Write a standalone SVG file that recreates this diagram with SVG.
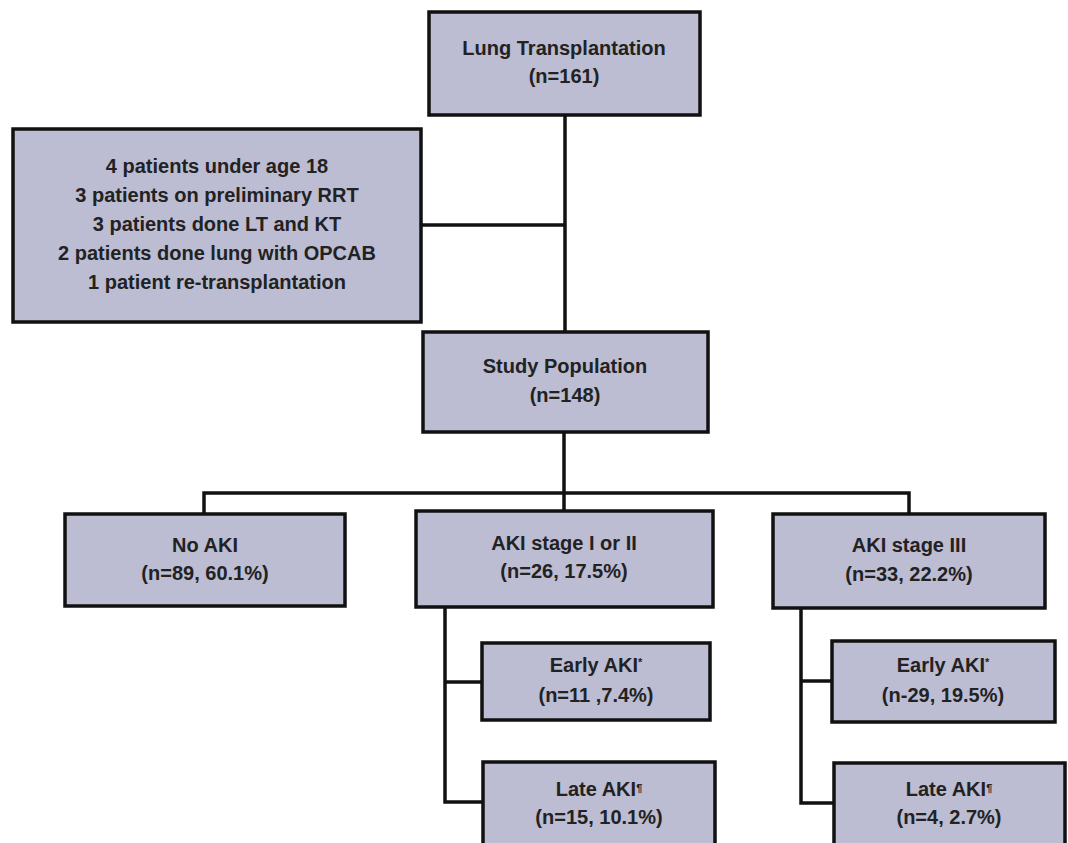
<svg xmlns="http://www.w3.org/2000/svg" width="1068" height="843" viewBox="0 0 1068 843">
<style>
.box{fill:#bcbcd3;stroke:#111;stroke-width:3.5}
.t{font-family:"Liberation Sans",Arial,sans-serif;font-weight:bold;font-size:20px;fill:#222;text-anchor:middle}
.sup{font-size:11px}
.c{fill:none;stroke:#111;stroke-width:3.5}
</style>
<rect width="1068" height="843" fill="#ffffff"/>
<g id="connectors">
<path class="c" d="M565,115 V332"/>
<path class="c" d="M421,225 H565"/>
<path class="c" d="M564,432 V493"/>
<path class="c" d="M204,514 V493 H909 V514"/>
<path class="c" d="M564,493 V511"/>
<path class="c" d="M445,607 V802 H483"/>
<path class="c" d="M445,682 H482"/>
<path class="c" d="M801,608 V803 H834"/>
<path class="c" d="M801,681 H832"/>
</g>
<g id="lung">
<rect class="box" x="429" y="12" width="271" height="103"/>
<text class="t" x="564" y="55">Lung Transplantation</text>
<text class="t" x="564" y="83">(n=161)</text>
</g>
<g id="exclusions">
<rect class="box" x="13" y="129" width="408" height="193"/>
<text class="t" x="217" y="173">4 patients under age 18</text>
<text class="t" x="217" y="202">3 patients on  preliminary RRT</text>
<text class="t" x="217" y="231">3 patients done  LT and KT</text>
<text class="t" x="217" y="260">2 patients done lung with OPCAB</text>
<text class="t" x="217" y="289">1 patient re-transplantation</text>
</g>
<g id="study">
<rect class="box" x="423" y="332" width="285" height="100"/>
<text class="t" x="565" y="373">Study Population</text>
<text class="t" x="565" y="402">(n=148)</text>
</g>
<g id="noaki">
<rect class="box" x="65" y="514" width="280" height="92"/>
<text class="t" x="205" y="552">No AKI</text>
<text class="t" x="205" y="580">(n=89, 60.1%)</text>
</g>
<g id="aki12">
<rect class="box" x="416" y="511" width="297" height="96"/>
<text class="t" x="564" y="550">AKI stage I or II</text>
<text class="t" x="564" y="578">(n=26, 17.5%)</text>
</g>
<g id="aki3">
<rect class="box" x="773" y="514" width="272" height="94"/>
<text class="t" x="909" y="552">AKI stage III</text>
<text class="t" x="909" y="581">(n=33, 22.2%)</text>
</g>
<g id="early12">
<rect class="box" x="482" y="643" width="228" height="77"/>
<text class="t" x="596" y="672">Early AKI<tspan class="sup" dy="-6">*</tspan></text>
<text class="t" x="596" y="702">(n=11 ,7.4%)</text>
</g>
<g id="late12">
<rect class="box" x="483" y="762" width="232" height="100"/>
<text class="t" x="599" y="796">Late AKI<tspan class="sup" dy="-4">¶</tspan></text>
<text class="t" x="599" y="824">(n=15, 10.1%)</text>
</g>
<g id="early3">
<rect class="box" x="832" y="641" width="223" height="81"/>
<text class="t" x="943" y="672">Early AKI<tspan class="sup" dy="-6">*</tspan></text>
<text class="t" x="943" y="702">(n-29, 19.5%)</text>
</g>
<g id="late3">
<rect class="box" x="834" y="763" width="231" height="100"/>
<text class="t" x="949" y="796">Late AKI<tspan class="sup" dy="-4">¶</tspan></text>
<text class="t" x="949" y="824">(n=4, 2.7%)</text>
</g>
</svg>
